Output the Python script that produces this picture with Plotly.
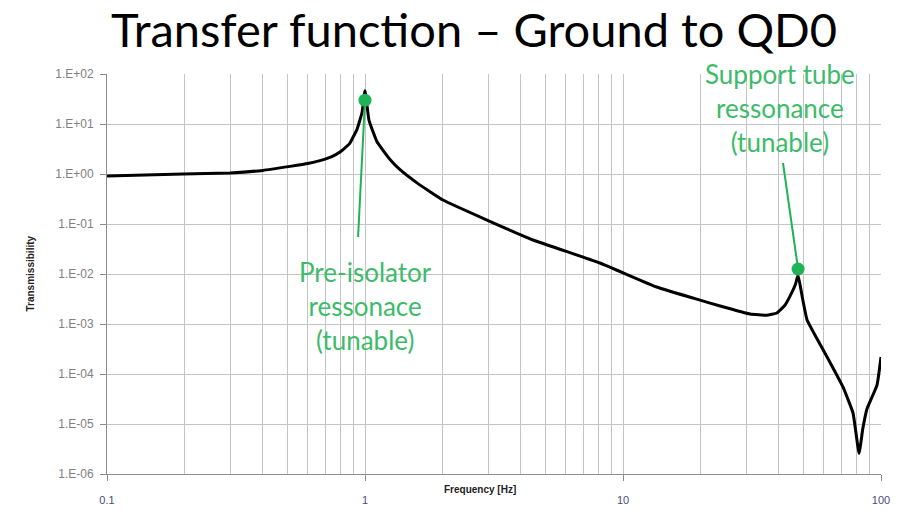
import numpy as np
import plotly.graph_objects as go

# Transmissibility curve, ground motion to QD0
freq_hz = [0.1, 0.197, 0.30, 0.402, 0.512, 0.60, 0.669, 0.74, 0.80, 0.87, 0.931, 0.974, 1.0,
           1.036, 1.113, 1.25, 1.367, 1.6, 2.005, 2.97, 4.48, 8.14, 13.5, 19.9,
           23.8, 31.1, 36.0, 39.5, 42.5, 44.4, 46.5, 47.7, 49.5, 51.7, 56.0, 61.8, 71.2, 77.9, 82.2,
           85.0, 88.2, 96.5, 100.0]
transmissibility = [0.912, 1.0, 1.05, 1.18, 1.42, 1.62, 1.85, 2.2, 2.75, 4.0, 7.8, 17.0, 46.0,
                    12.0, 4.4, 1.95, 1.22, 0.65, 0.302, 0.120, 0.0479, 0.0166, 0.0055, 0.0030,
                    0.00229, 0.00158, 0.00150, 0.00166, 0.0024, 0.0036, 0.0060, 0.0095, 0.0035, 0.0012, 5.5e-4, 2.19e-4, 5.5e-5, 1.66e-5, 2.6e-6,
                    8.0e-6, 2.0e-5, 6.0e-5, 2.19e-4]

# Highlighted resonances
res_freq = [1.0, 47.7]
res_value = [30.0, 0.0126]

# Callout labels and the leader lines pointing to the resonances
label_text = ["Pre-isolator<br>ressonace<br>(tunable)", "Support tube<br>ressonance<br>(tunable)"]
label_freq = [1.0, 40.5]
label_value = [10 ** -2.63, 10 ** 1.32]
leader_start_freq = [0.94, 41.7]
leader_start_value = [0.055, 1.66]

y_tick_vals = [1e2, 1e1, 1e0, 1e-1, 1e-2, 1e-3, 1e-4, 1e-5, 1e-6]
y_tick_text = ["1.E+02", "1.E+01", "1.E+00", "1.E-01", "1.E-02", "1.E-03", "1.E-04", "1.E-05", "1.E-06"]
x_tick_vals = [0.1, 1, 10, 100]
x_tick_text = ["0.1", "1", "10", "100"]

GREEN_MARK = "#1fb257"
GREEN_TEXT = "#3dbb6a"
TEXT_FONT = "Lato"
SMALL_FONT = "Liberation Sans Narrow, Liberation Sans"

# plot-area geometry in pixels, used to place the free-standing axis titles
PLOT_W, PLOT_H = 774, 400

fig = go.Figure()

fig.add_trace(go.Scatter(
    x=freq_hz, y=transmissibility, mode="lines",
    line=dict(color="black", width=3, shape="spline", smoothing=0.35),
    hoverinfo="skip", showlegend=False,
))

for i in range(len(res_freq)):
    fig.add_trace(go.Scatter(
        x=[leader_start_freq[i], res_freq[i]],
        y=[leader_start_value[i], res_value[i]],
        mode="lines", line=dict(color=GREEN_MARK, width=2),
        hoverinfo="skip", showlegend=False,
    ))

fig.add_trace(go.Scatter(
    x=res_freq, y=res_value, mode="markers",
    marker=dict(color=GREEN_MARK, size=13),
    hoverinfo="skip", showlegend=False,
))

for i in range(len(label_text)):
    fig.add_annotation(
        x=np.log10(label_freq[i]), y=np.log10(label_value[i]),
        xref="x", yref="y", text=label_text[i], showarrow=False,
        font=dict(family=TEXT_FONT, size=26, color=GREEN_TEXT),
        align="center", xanchor="center", yanchor="middle",
    )

fig.add_annotation(
    x=(480 - 107) / PLOT_W, y=-(497 - 474) / PLOT_H, xref="paper", yref="paper",
    text="<b>Frequency [Hz]</b>", showarrow=False,
    font=dict(family=SMALL_FONT, size=10, color="#222222"),
)

fig.add_annotation(
    x=-(107 - 22) / PLOT_W, y=0.5, xref="paper", yref="paper", text="<b>Transmissibility</b>",
    textangle=-90, showarrow=False,
    font=dict(family=SMALL_FONT, size=10, color="#222222"),
)

fig.update_layout(
    width=903, height=519,
    margin=dict(l=107, r=22, t=74, b=45),
    paper_bgcolor="white", plot_bgcolor="white",
    title=dict(
        text="Transfer function – Ground to QD0",
        x=0.525, xanchor="center", y=1 - 31 / 519, yanchor="middle",
        font=dict(family=TEXT_FONT, size=47, color="black"),
    ),
    xaxis=dict(
        type="log", range=[-1, 2],
        tickvals=x_tick_vals, ticktext=x_tick_text,
        ticks="outside", ticklen=6, tickcolor="#8c8c8c",
        tickfont=dict(family="Liberation Sans", size=11, color="#4b4b78"),
        ticklabelstandoff=10,
        showgrid=True, gridcolor="#c4c4c4", gridwidth=1,
        minor=dict(showgrid=True, gridcolor="#c4c4c4", gridwidth=1, dtick="D1", ticks=""),
        showline=True, linecolor="#8c8c8c", linewidth=1,
        zeroline=False,
    ),
    yaxis=dict(
        type="log", range=[-6, 2],
        tickvals=y_tick_vals, ticktext=y_tick_text,
        ticks="outside", ticklen=6, tickcolor="#8c8c8c",
        tickfont=dict(family="Liberation Sans", size=12, color="#808080"),
        ticklabelstandoff=4,
        showgrid=True, gridcolor="#c4c4c4", gridwidth=1,
        showline=True, linecolor="#8c8c8c", linewidth=1,
        zeroline=False,
    ),
)

fig.write_html("out.html")
